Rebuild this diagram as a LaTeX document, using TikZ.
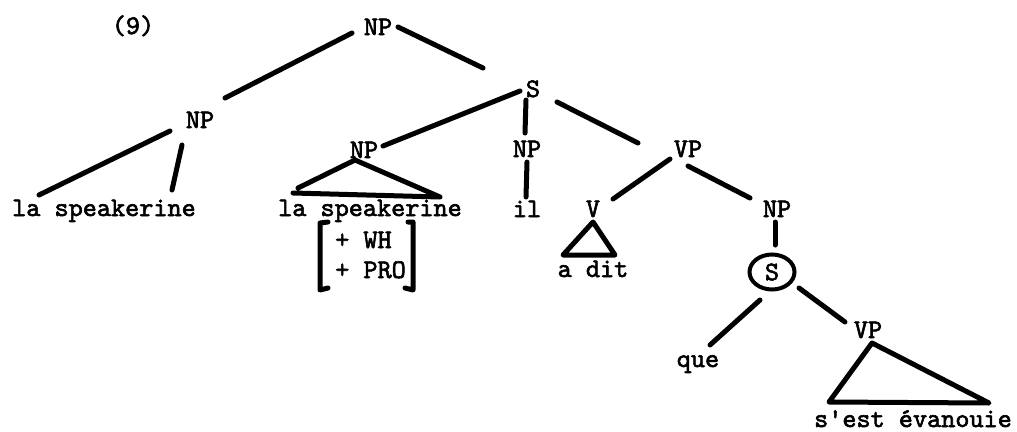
\documentclass[tikz,border=0pt]{standalone}
\usepackage{fontspec}
\newfontfamily\twfont{lmmono10-regular.otf}[FakeBold=2.2]
\newcommand\twr{\twfont\fontsize{26.9pt}{29pt}\selectfont}
\usetikzlibrary{shapes.geometric}
\begin{document}
\begin{tikzpicture}[x=1pt,y=-1pt,
  lbl/.style={font=\twr, inner sep=0pt, anchor=base},
  edge/.style={line width=5pt, line cap=round, line join=round},
  brk/.style={line width=5pt, line cap=round, line join=round}]
\useasboundingbox (0,0) rectangle (1017,431);
\fill[white] (0,0) rectangle (1017,431);
% labels
\node[lbl] (n9)  at (133,34) {(9)};
\node[lbl] (npT) at (378,35) {NP};
\node[lbl] (npL) at (200,128) {NP};
\node[lbl] (sT)  at (533,97) {S};
\node[lbl] (npM) at (364,158) {NP};
\node[lbl] (npI) at (527,157) {NP};
\node[lbl] (vpT) at (688,157) {VP};
\node[lbl] (lsL) at (104,216) {la speakerine};
\node[lbl] (lsM) at (370,216) {la speakerine};
\node[lbl] (il)  at (527,217) {il};
\node[lbl] (v)   at (593,217) {V};
\node[lbl] (npR) at (777,217) {NP};
\node[lbl,anchor=base west] (fWH)  at (335,248) {+ WH};
\node[lbl,anchor=base west] (fPRO) at (335,278) {+ PRO};
\node[lbl] (adit) at (593,277) {a dit};
\node[lbl,anchor=center,draw,ellipse,line width=4pt,minimum width=45pt,minimum height=35pt] (sC) at (772,272) {S};
\node[lbl] (que) at (698,367) {que};
\node[lbl] (vpB) at (868,338) {VP};
\node[lbl] (sev) at (913,427) {s'est évanouie};
% branches
\draw[edge] ([shift={(-26,-2)}]npT.base) -- ([shift={(25,-30)}]npL.base);
\draw[edge] ([shift={(20,-8)}]npT.base) -- ([shift={(-50,-29)}]sT.base);
\draw[edge] ([shift={(-13,-6)}]sT.base) -- ([shift={(19,-12)}]npM.base);
\draw[edge] ([shift={(-7,3)}]sT.base) -- ([shift={(-2,-24)}]npI.base);
\draw[edge] ([shift={(24,5)}]sT.base) -- ([shift={(-50,-14)}]vpT.base);
\draw[edge] ([shift={(-30,3)}]npL.base) -- ([shift={(-65,-21)}]lsL.base);
\draw[edge] ([shift={(-18,17)}]npL.base) -- ([shift={(68,-26)}]lsL.base);
\draw[edge] ([shift={(0,5)}]npI.base) -- ([shift={(-1,-20)}]il.base);
\draw[edge] ([shift={(-18,2)}]vpT.base) -- ([shift={(20,-18)}]v.base);
\draw[edge] ([shift={(0,9)}]vpT.base) -- ([shift={(-27,-19)}]npR.base);
\draw[edge] ([shift={(-2,5)}]npR.base) -- ([shift={(3,-27)}]sC.center);
\draw[edge] ([shift={(-12,28)}]sC.center) -- ([shift={(12,-22)}]que.base);
\draw[edge] ([shift={(27,16)}]sC.center) -- ([shift={(-23,-16)}]vpB.base);
% triangles
\draw[edge] ([shift={(-72,-28)}]lsM.base) -- ([shift={(-9,2)}]npM.base)
  -- ([shift={(70,-19)}]lsM.base) -- ([shift={(-77,-23)}]lsM.base);
\draw[edge] ([shift={(-30,-22)}]adit.base) -- ([shift={(0,5)}]v.base)
  -- ([shift={(22,-22)}]adit.base) -- cycle;
\draw[edge] ([shift={(-84,-25)}]sev.base) -- ([shift={(4,5)}]vpB.base)
  -- ([shift={(76,-24)}]sev.base) -- cycle;
% feature brackets
\draw[brk] ([shift={(-7,-26)}]fWH.base west) -- ([shift={(-15,-25)}]fWH.base west)
  -- ([shift={(-15,12)}]fPRO.base west) -- ([shift={(-7,10)}]fPRO.base west);
\draw[brk] ([shift={(73,-26)}]fWH.base west) -- ([shift={(78,-26)}]fWH.base west)
  -- ([shift={(78,12)}]fPRO.base west) -- ([shift={(70,10)}]fPRO.base west);
\end{tikzpicture}
\end{document}
